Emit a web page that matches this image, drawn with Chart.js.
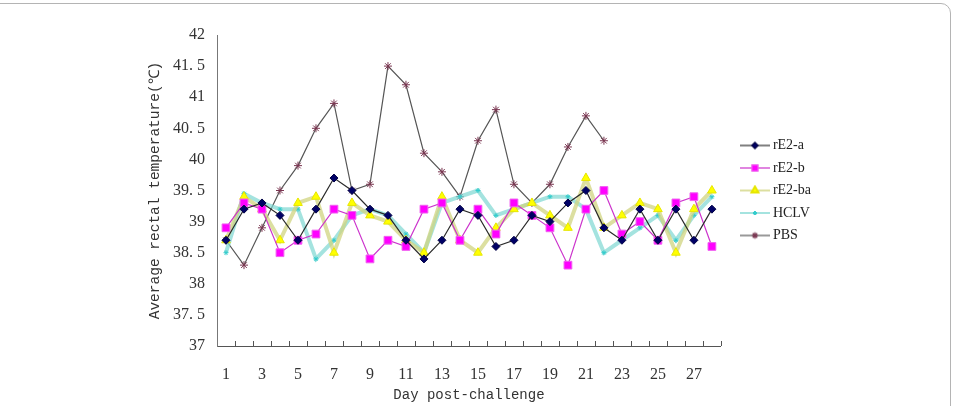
<!DOCTYPE html>
<html>
<head>
<meta charset="utf-8">
<script src="https://cdn.jsdelivr.net/npm/chart.js@4.4.1/dist/chart.umd.min.js"></script>
<style>
  html, body { margin: 0; padding: 0; background: #fff; }
  #wrap { position: relative; width: 957px; height: 406px; overflow: hidden; }
  #frame { position: absolute; left: -12px; top: 3px; width: 961px; height: 430px; border: 1px solid #b4b4b4; border-radius: 10px; pointer-events: none; }
  canvas { position: absolute; left: 0; top: 0; }
</style>
</head>
<body>
<div id="wrap">
  <canvas id="tempChart" width="957" height="406"></canvas>
  <div id="frame"></div>
</div>
<script>
//// Data

// Day post-challenge
const days = [1, 2, 3, 4, 5, 6, 7, 8, 9, 10, 11, 12, 13, 14, 15, 16, 17, 18, 19, 20, 21, 22, 23, 24, 25, 26, 27, 28];

// Average rectal temperature per group
const rE2a = [38.7, 39.2, 39.3, 39.1, 38.7, 39.2, 39.7, 39.5, 39.2, 39.1, 38.7, 38.4, 38.7, 39.2, 39.1, 38.6, 38.7, 39.1, 39.0, 39.3, 39.5, 38.9, 38.7, 39.2, 38.7, 39.2, 38.7, 39.2];
const rE2b = [38.9, 39.3, 39.2, 38.5, 38.7, 38.8, 39.2, 39.1, 38.4, 38.7, 38.6, 39.2, 39.3, 38.7, 39.2, 38.8, 39.3, 39.1, 38.9, 38.3, 39.2, 39.5, 38.8, 39.0, 38.7, 39.3, 39.4, 38.6];
const rE2ba = [38.7, 39.4, 39.2, 38.7, 39.3, 39.4, 38.5, 39.3, 39.1, 39.0, 38.7, 38.5, 39.4, 38.7, 38.5, 38.9, 39.2, 39.3, 39.1, 38.9, 39.7, 38.9, 39.1, 39.3, 39.2, 38.5, 39.2, 39.5];
const hclv = [38.5, 39.45, 39.3, 39.2, 39.2, 38.4, 38.7, 39.1, 39.2, 39.1, 38.8, 38.5, 39.3, 39.4, 39.5, 39.1, 39.2, 39.3, 39.4, 39.4, 39.2, 38.5, 38.7, 38.9, 39.1, 38.7, 39.1, 39.4];
const pbs = [38.7, 38.3, 38.9, 39.5, 39.9, 40.5, 40.9, 39.5, 39.6, 41.5, 41.2, 40.1, 39.8, 39.4, 40.3, 40.8, 39.6, 39.3, 39.6, 40.2, 40.7, 40.3, null, null, null, null, null, null];

// Y axis ticks
const yTicks = [37, 37.5, 38, 38.5, 39, 39.5, 40, 40.5, 41, 41.5, 42];
const yTickLabels = ['37', '37. 5', '38', '38. 5', '39', '39. 5', '40', '40. 5', '41', '41. 5', '42'];

const seriesNames = ['rE2-a', 'rE2-b', 'rE2-ba', 'HCLV', 'PBS'];

//// Styles
const seriesStyles = [
    { line: '#2a2a2a', width: 1.2, point: 'rectRot', radius: 4, fill: '#000066', stroke: '#000044' },
    { line: '#cc33cc', width: 1.2, point: 'rect', radius: 5.5, fill: '#ff00ff', stroke: '#f060f0' },
    { line: 'rgba(208,212,128,0.75)', width: 4, point: 'triangle', radius: 5, fill: '#ffff00', stroke: '#e6e600' },
    { line: 'rgba(125,215,210,0.7)', width: 4, point: 'star', radius: 2.5, fill: '#33cccc', stroke: '#33cccc' },
    { line: '#555555', width: 1.2, point: 'star', radius: 4, fill: '#7a3550', stroke: '#7a3550' }
];

// small line + marker picture for the legend
function legendIcon(style) {
    const c = document.createElement('canvas');
    c.width = 30;
    c.height = 12;
    const ctx = c.getContext('2d');
    ctx.strokeStyle = style.line;
    ctx.lineWidth = Math.min(style.width, 2);
    ctx.beginPath();
    ctx.moveTo(0, 6);
    ctx.lineTo(30, 6);
    ctx.stroke();
    ctx.fillStyle = style.fill;
    ctx.strokeStyle = style.stroke;
    Chart.helpers.drawPoint(ctx, { pointStyle: style.point, radius: style.radius * 0.8, rotation: 0, borderWidth: 1 }, 15, 6);
    return c;
}

// short upward ticks between the days
const innerTicks = {
    id: 'innerTicks',
    afterDraw(chart) {
        const x = chart.scales.x;
        const ctx = chart.ctx;
        const step = x.getPixelForValue(1) - x.getPixelForValue(0);
        ctx.save();
        ctx.strokeStyle = '#555';
        ctx.lineWidth = 1;
        ctx.beginPath();
        for (let i = 1; i <= days.length; i++) {
            const px = Math.round(x.getPixelForValue(i) - step / 2) + 0.5;
            ctx.moveTo(px, x.top);
            ctx.lineTo(px, x.top - 5);
        }
        ctx.stroke();
        ctx.restore();
    }
};

//// Chart
window.onload = () => {
    const canvas = document.getElementById('tempChart');
    const values = [rE2a, rE2b, rE2ba, hclv, pbs];

    const datasets = values.map((data, i) => {
        const s = seriesStyles[i];
        return {
            label: seriesNames[i],
            data: data,
            borderColor: s.line,
            borderWidth: s.width,
            pointStyle: s.point,
            pointRadius: s.radius,
            pointBackgroundColor: s.fill,
            pointBorderColor: s.stroke,
            pointBorderWidth: 1,
            tension: 0,
            fill: false,
            spanGaps: false
        };
    });
    const icons = seriesStyles.map(legendIcon);

    Chart.defaults.font.family = '"Liberation Serif", serif';
    Chart.defaults.color = '#333';

    new Chart(canvas, {
        type: 'line',
        data: { labels: days, datasets: datasets },
        plugins: [innerTicks],
        options: {
            responsive: false,
            animation: false,
            layout: { padding: { top: 35, right: 136, bottom: 0, left: 0 } },
            plugins: {
                tooltip: { enabled: false },
                legend: {
                    position: 'right',
                    align: 'center',
                    fullSize: false,
                    labels: {
                        usePointStyle: true,
                        pointStyleWidth: 22,
                        padding: 8.5,
                        color: '#222',
                        font: { size: 14 },
                        generateLabels: (chart) => {
                            const items = Chart.defaults.plugins.legend.labels.generateLabels(chart);
                            items.forEach((item, i) => { item.pointStyle = icons[i]; });
                            return items;
                        }
                    }
                }
            },
            scales: {
                x: {
                    type: 'category',
                    offset: true,
                    grid: { display: false },
                    border: { display: true, color: '#555', width: 1 },
                    ticks: {
                        autoSkip: false,
                        maxRotation: 0,
                        padding: 11,
                        color: '#333',
                        font: { size: 16 },
                        callback: (v, i) => (i % 2 === 0 ? String(days[i]) : '')
                    },
                    title: {
                        display: true,
                        text: 'Day post-challenge',
                        color: '#333',
                        font: { family: '"Liberation Mono", monospace', size: 14 },
                        padding: { top: 0, bottom: 2 }
                    },
                    afterFit: (scale) => { scale.height = 60; }
                },
                y: {
                    min: 37,
                    max: 42,
                    grid: { display: false, drawTicks: false },
                    border: { display: true, color: '#777', width: 1 },
                    afterBuildTicks: (scale) => { scale.ticks = yTicks.map(v => ({ value: v })); },
                    ticks: {
                        padding: 12,
                        color: '#333',
                        font: { size: 16 },
                        callback: (v) => yTickLabels[yTicks.findIndex(t => Math.abs(t - v) < 1e-6)]
                    },
                    title: {
                        display: true,
                        text: 'Average rectal temperature(℃)',
                        color: '#333',
                        font: { family: '"Liberation Mono", monospace', size: 14.5 },
                        padding: { top: 146, bottom: 0 }
                    },
                    afterFit: (scale) => { scale.width = 217; }
                },
                // empty gap between the plot and the legend
                y2: {
                    position: 'right',
                    display: true,
                    grid: { display: false },
                    border: { display: false },
                    ticks: { display: false },
                    afterFit: (scale) => { scale.width = 14.5; }
                }
            }
        }
    });
};
</script>
</body>
</html>
